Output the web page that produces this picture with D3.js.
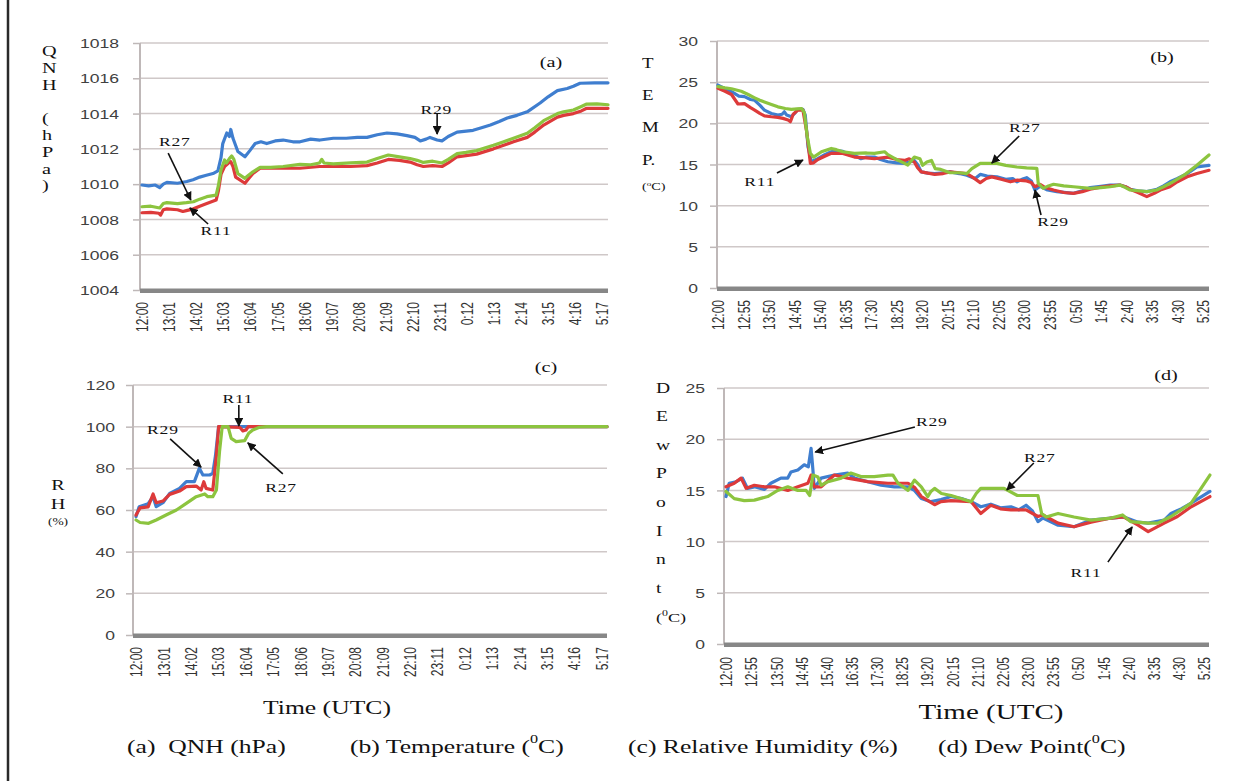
<!DOCTYPE html>
<html>
<head>
<meta charset="utf-8">
<script src="https://cdn.jsdelivr.net/npm/d3@7/dist/d3.min.js"></script>
<style>
  html, body { margin: 0; padding: 0; background: #fff; }
  svg { display: block; }
</style>
</head>
<body>
<svg id="fig" width="1256" height="781"></svg>
<script>
// ---- Tick labels (one label every 61 min for a/c, every 55 min for b/d) ----
const ticks61 = ["12:00","13:01","14:02","15:03","16:04","17:05","18:06","19:07","20:08","21:09","22:10","23:11","0:12","1:13","2:14","3:15","4:16","5:17"];
const ticks55 = ["12:00","12:55","13:50","14:45","15:40","16:35","17:30","18:25","19:20","20:15","21:10","22:05","23:00","23:55","0:50","1:45","2:40","3:35","4:30","5:25"];

// ---- Series: [minutes after 12:00 UTC, value] ----
// (a) QNH (hPa)
const qnhR29 = [[0,1009.95],[15,1009.9],[30,1009.95],[40,1009.8],[48,1010.0],[56,1010.1],[80,1010.05],[101,1010.15],[115,1010.25],[130,1010.4],[145,1010.5],[160,1010.6],[171,1010.75],[178,1011.5],[182,1012.3],[191,1012.9],[197,1012.7],[200,1013.1],[205,1012.6],[216,1011.85],[232,1011.55],[243,1011.9],[255,1012.3],[268,1012.4],[281,1012.3],[300,1012.45],[318,1012.5],[340,1012.4],[356,1012.4],[380,1012.55],[401,1012.5],[431,1012.6],[460,1012.6],[485,1012.65],[507,1012.65],[530,1012.8],[552,1012.9],[575,1012.85],[597,1012.75],[615,1012.65],[627,1012.45],[640,1012.55],[649,1012.65],[665,1012.5],[676,1012.45],[690,1012.7],[710,1012.95],[746,1013.05],[765,1013.2],[785,1013.35],[805,1013.55],[823,1013.75],[845,1013.9],[868,1014.1],[897,1014.6],[915,1014.95],[936,1015.3],[958,1015.42],[972,1015.55],[987,1015.72],[1020,1015.74],[1050,1015.74]];
const qnhR11 = [[0,1008.38],[20,1008.4],[38,1008.35],[42,1008.25],[48,1008.55],[56,1008.6],[80,1008.55],[92,1008.45],[100,1008.5],[116,1008.6],[130,1008.75],[146,1008.9],[167,1009.1],[172,1009.6],[178,1010.55],[186,1011.0],[195,1011.2],[200,1011.27],[205,1011.0],[211,1010.4],[232,1010.05],[240,1010.3],[250,1010.6],[266,1010.9],[300,1010.9],[318,1010.9],[356,1010.9],[400,1011.0],[431,1011.0],[470,1011.0],[507,1011.05],[530,1011.2],[555,1011.4],[580,1011.35],[604,1011.25],[620,1011.1],[634,1011.0],[655,1011.05],[676,1011.0],[690,1011.2],[710,1011.55],[754,1011.7],[792,1012.0],[815,1012.2],[837,1012.4],[868,1012.65],[885,1012.95],[905,1013.35],[936,1013.8],[950,1013.9],[972,1014.0],[990,1014.15],[1002,1014.3],[1050,1014.3]];
const qnhR27 = [[0,1008.72],[20,1008.75],[40,1008.65],[48,1008.9],[56,1008.95],[80,1008.9],[100,1008.95],[116,1009.0],[130,1009.15],[146,1009.29],[167,1009.38],[172,1009.9],[178,1010.8],[186,1011.37],[190,1011.2],[197,1011.45],[202,1011.6],[207,1011.4],[216,1010.6],[232,1010.33],[240,1010.5],[250,1010.7],[266,1010.95],[290,1010.95],[318,1011.0],[356,1011.12],[380,1011.1],[400,1011.2],[405,1011.4],[410,1011.2],[431,1011.15],[470,1011.2],[507,1011.25],[530,1011.45],[555,1011.65],[580,1011.55],[604,1011.45],[620,1011.35],[634,1011.23],[655,1011.3],[676,1011.2],[690,1011.4],[710,1011.73],[730,1011.8],[754,1011.9],[792,1012.2],[815,1012.4],[837,1012.6],[868,1012.88],[885,1013.2],[905,1013.6],[936,1014.0],[950,1014.1],[972,1014.2],[990,1014.4],[1002,1014.54],[1025,1014.55],[1050,1014.5]];

// (b) Temperature (°C)
const tempR29 = [[0,24.65],[15,24.2],[29,23.85],[45,23.3],[57,23.25],[70,22.9],[79,22.8],[90,22.2],[100,21.6],[115,21.2],[129,21.0],[138,21.1],[143,21.4],[148,21.0],[158,20.8],[165,21.2],[172,21.7],[183,21.7],[188,21.0],[194,17.15],[201,15.33],[215,15.7],[230,16.2],[244,16.55],[255,16.7],[269,16.6],[280,16.3],[294,16.1],[308,15.7],[320,15.9],[337,15.9],[350,15.6],[366,15.33],[385,15.2],[402,15.14],[412,15.3],[423,15.5],[430,15.0],[438,14.1],[452,13.95],[467,13.9],[485,14.0],[500,14.1],[520,13.9],[536,13.7],[554,13.3],[565,13.8],[580,13.6],[601,13.5],[620,13.2],[635,13.3],[644,12.9],[655,13.2],[665,13.4],[675,13.0],[683,11.9],[694,12.35],[710,11.9],[730,11.7],[766,11.5],[785,11.8],[802,12.2],[825,12.35],[845,12.5],[866,12.5],[878,12.3],[888,12.0],[905,11.8],[924,11.7],[946,12.0],[960,12.4],[974,12.9],[990,13.3],[1011,13.9],[1032,14.7],[1058,14.9]];
const tempR11 = [[0,24.25],[15,23.9],[29,23.5],[43,22.35],[57,22.4],[70,21.9],[79,21.6],[90,21.2],[100,20.9],[115,20.8],[129,20.73],[140,20.6],[151,20.4],[156,20.2],[162,21.1],[172,21.6],[183,21.6],[191,19.0],[199,15.14],[206,15.2],[215,15.6],[230,16.0],[244,16.35],[269,16.35],[294,15.9],[320,15.8],[337,15.7],[366,15.9],[385,15.6],[402,15.5],[412,15.7],[423,15.3],[430,14.6],[438,14.1],[467,13.8],[485,13.9],[500,14.1],[520,14.0],[536,13.9],[550,13.4],[565,12.8],[578,13.3],[590,13.5],[610,13.2],[630,12.9],[645,13.1],[665,13.0],[675,12.8],[683,12.3],[694,12.6],[705,12.2],[723,11.9],[745,11.6],[766,11.5],[785,11.7],[802,12.0],[825,12.25],[845,12.4],[866,12.5],[878,12.3],[888,12.0],[905,11.6],[924,11.1],[940,11.5],[953,11.9],[974,12.3],[990,12.9],[1011,13.5],[1032,13.9],[1058,14.3]];
const tempR27 = [[0,24.45],[15,24.3],[29,24.2],[50,23.9],[65,23.5],[79,23.1],[90,22.8],[100,22.6],[115,22.3],[129,22.0],[145,21.8],[158,21.7],[170,21.75],[180,21.8],[186,21.3],[192,18.5],[199,16.35],[206,15.9],[223,16.55],[244,16.95],[255,16.8],[269,16.55],[294,16.35],[320,16.4],[337,16.35],[359,16.55],[366,16.2],[385,15.6],[400,15.2],[409,14.93],[423,15.9],[435,15.7],[441,14.9],[450,15.3],[460,15.5],[468,14.5],[480,14.4],[500,14.0],[520,14.0],[536,13.9],[547,14.5],[565,15.14],[601,15.14],[620,14.9],[644,14.7],[665,14.6],[687,14.53],[690,12.7],[701,12.1],[712,12.4],[723,12.6],[745,12.4],[766,12.3],[802,12.1],[825,12.2],[845,12.3],[866,12.5],[878,12.2],[888,11.9],[924,11.7],[945,11.9],[960,12.3],[980,12.9],[1004,13.7],[1032,14.9],[1058,16.15]];

// (c) Relative humidity (%)
const rhR29 = [[0,56.8],[7,61.6],[27,63],[38,66.4],[45,61.6],[60,63.5],[75,68],[97,70.4],[112,73.6],[130,73.6],[141,80],[149,76.8],[164,76.8],[171,77.6],[177,86],[184,100],[1049,100]];
const rhR11 = [[0,57.6],[9,61],[27,61.5],[38,67.7],[45,63.5],[60,64.3],[75,67.5],[97,69.1],[112,71.2],[134,71.5],[145,69.6],[151,73.6],[156,70.4],[171,69.6],[179,86],[184,100],[231,99.7],[238,98.0],[245,98.4],[250,100],[1049,100]];
const rhR27 = [[0,55.2],[9,54],[28,53.6],[45,55.2],[67,57.6],[90,60],[112,63.2],[134,66.4],[153,67.7],[160,66.4],[171,66.4],[179,69.6],[186,88],[192,100],[205,100],[212,94.4],[223,92.8],[242,93.3],[251,96.8],[260,98.4],[275,99.7],[290,100],[1049,100]];

// (d) Dew point (°C)
const dewR29 = [[0,14.4],[7,15.7],[22,15.85],[36,16.2],[47,15.2],[62,15.35],[84,15.1],[98,15.7],[120,16.2],[135,16.2],[142,16.8],[157,17.0],[171,17.5],[180,17.3],[186,19.1],[190,17.0],[193,15.2],[208,16.2],[237,16.5],[266,16.7],[281,16.2],[310,15.85],[339,15.5],[368,15.35],[398,15.35],[412,15.0],[427,14.2],[448,13.9],[470,14.1],[492,14.4],[515,14.2],[536,13.9],[557,13.4],[579,13.65],[600,13.3],[623,13.4],[640,13.1],[656,13.55],[670,13.0],[682,11.95],[693,12.3],[726,11.6],[761,11.45],[798,12.1],[842,12.3],[870,12.4],[901,11.9],[923,11.8],[958,12.1],[973,12.75],[995,13.2],[1017,13.75],[1058,14.9]];
const dewR11 = [[0,15.35],[18,15.7],[33,16.2],[44,15.2],[62,15.5],[84,15.35],[106,15.35],[135,15.0],[157,15.35],[179,15.7],[186,16.5],[193,15.35],[208,15.35],[237,16.5],[266,16.2],[310,15.85],[354,15.7],[398,15.7],[412,15.3],[427,14.4],[456,13.6],[470,13.9],[492,14.0],[536,13.9],[557,12.75],[579,13.55],[600,13.2],[623,13.1],[656,13.1],[682,12.45],[693,12.6],[726,11.8],[761,11.45],[798,11.9],[842,12.3],[870,12.4],[901,11.6],[923,10.97],[958,11.8],[987,12.45],[1017,13.4],[1058,14.4]];
const dewR27 = [[0,14.9],[18,14.2],[40,14.0],[62,14.05],[91,14.4],[113,15.0],[135,15.35],[157,15.0],[175,15.0],[183,14.5],[190,16.5],[201,16.3],[208,15.5],[223,15.85],[252,16.2],[273,16.7],[295,16.35],[324,16.35],[354,16.5],[365,16.5],[376,15.7],[398,15.0],[412,16.0],[427,15.35],[441,14.4],[448,14.9],[456,15.2],[471,14.7],[492,14.5],[536,13.9],[547,14.7],[557,15.2],[608,15.2],[637,14.5],[682,14.5],[690,12.75],[700,12.4],[726,12.75],[761,12.4],[798,12.1],[842,12.3],[867,12.6],[885,11.95],[923,11.8],[944,11.8],[973,12.45],[1017,13.75],[1058,16.5]];

// ---- Y tick values ----
const yTicksA = [1004,1006,1008,1010,1012,1014,1016,1018];
const yTicksB = [0,5,10,15,20,25,30];
const yTicksC = [0,20,40,60,80,100,120];
const yTicksD = [0,5,10,15,20,25];

// ---- Station callouts, in data units: label centre, arrow tail, arrow head ----
const notesA = [
  {label:"R27", at:[74,1012.44], from:[59,1011.76], to:[110,1009.1]},
  {label:"R11", at:[167,1007.4], from:[149,1007.74], to:[108,1008.65]},
  {label:"R29", at:[663,1014.26], from:[665,1013.98], to:[665,1012.84]}
];
const notesB = [
  {label:"R11", at:[90,12.99], from:[127,13.96], to:[183,15.54]},
  {label:"R27", at:[661,19.55], from:[649,18.46], to:[590,15.18]},
  {label:"R29", at:[722,8.13], from:[696,8.86], to:[683,11.9]}
];
const notesC = [
  {label:"R11", at:[227,113.8], from:[229,110.4], to:[229,100.3]},
  {label:"R29", at:[60,98.9], from:[76,94.1], to:[145,80.6]},
  {label:"R27", at:[323,71.0], from:[327,77.3], to:[249,92.2]}
];
const notesD = [
  {label:"R29", at:[450,21.78], from:[413,21.19], to:[195,18.75]},
  {label:"R27", at:[686,18.26], from:[673,17.68], to:[614,15.04]},
  {label:"R11", at:[787,7.03], from:[835,8.0], to:[888,11.43]}
];

const COLORS = { R29: "#3f7ecf", R11: "#dd3a3a", R27: "#8cc43f" };
const SX = 1.35;               // horizontal glyph stretch used by the figure's type
const SANS = "'Liberation Sans', Arial, sans-serif";
const SERIF = "'Liberation Serif', 'Times New Roman', serif";

const svg = d3.select("#fig");
svg.append("rect").attr("width", 1256).attr("height", 781).attr("fill", "#fff");

// page rule on the left
svg.append("line").attr("x1", 8).attr("x2", 8).attr("y1", 0).attr("y2", 781)
  .attr("stroke", "#2a2a2a").attr("stroke-width", 2.5);

function stretchedText(g, x, y, str, size, anchor, family, fill) {
  return g.append("text")
    .attr("transform", `translate(${x},${y}) scale(${SX},1)`)
    .attr("text-anchor", anchor || "start")
    .attr("dominant-baseline", "central")
    .attr("font-family", family || SERIF)
    .attr("font-size", size)
    .attr("fill", fill || "#111")
    .attr("xml:space", "preserve")
    .style("white-space", "pre")
    .text(str);
}

svg.append("defs").append("marker")
  .attr("id", "arrowhead").attr("viewBox", "0 0 10 10")
  .attr("refX", 9).attr("refY", 5)
  .attr("markerWidth", 5.5).attr("markerHeight", 5.5)
  .attr("markerUnits", "strokeWidth")
  .attr("orient", "auto")
  .append("path").attr("d", "M0,0 L10,5 L0,10 Z").attr("fill", "#111");

function drawPanel(p) {
  const x = d3.scaleLinear().domain(p.xDomain).range([p.left, p.right]);
  const y = d3.scaleLinear().domain(p.yDomain).range([p.bottom, p.top]);
  const g = svg.append("g");

  // horizontal gridlines
  g.append("g").selectAll("line").data(p.yTicks.filter(v => v !== p.yDomain[0])).join("line")
    .attr("x1", p.left).attr("x2", p.right)
    .attr("y1", d => y(d)).attr("y2", d => y(d))
    .attr("stroke", "#cfc8c8").attr("stroke-width", 1.5);

  // vertical axis line
  g.append("line").attr("x1", p.left).attr("x2", p.left)
    .attr("y1", p.top).attr("y2", p.bottom)
    .attr("stroke", "#bfb8b8").attr("stroke-width", 2);

  // value axis
  const ya = g.append("g").attr("transform", `translate(${p.left},0)`)
    .call(d3.axisLeft(y).tickValues(p.yTicks).tickSize(7).tickFormat(d3.format("d")));
  ya.select(".domain").remove();
  ya.selectAll(".tick line").attr("stroke", "#bfb8b8").attr("stroke-width", 1.5);
  ya.selectAll(".tick text")
    .attr("x", null).attr("dy", null)
    .attr("text-anchor", "end").attr("dominant-baseline", "central")
    .attr("transform", `translate(${-p.yLabelGap},0) scale(${SX},1)`)
    .attr("font-family", SANS).attr("font-size", 13).attr("fill", "#404040");

  // time axis (rotated labels)
  const xa = g.append("g").attr("transform", `translate(0,${p.bottom})`)
    .call(d3.axisBottom(x).tickValues(p.tickLabels.map((_, i) => i * p.tickStep))
      .tickSize(0).tickFormat((d, i) => p.tickLabels[i]));
  xa.select(".domain").remove();
  xa.selectAll(".tick text")
    .attr("x", null).attr("y", null).attr("dy", null)
    .attr("text-anchor", "end").attr("dominant-baseline", "central")
    .attr("transform", `scale(${SX},1) rotate(-90) translate(${-p.xLabelGap},0)`)
    .attr("font-family", SANS).attr("font-size", 12).attr("fill", "#333");

  // heavy floor line of the plot
  g.append("rect").attr("x", p.left).attr("y", p.bottom - 1.5)
    .attr("width", p.right - p.left).attr("height", 4.5)
    .attr("fill", "#878787");

  // station series
  const line = d3.line().x(d => x(d[0])).y(d => y(d[1]));
  p.series.forEach(s => {
    g.append("path").datum(s.values).attr("d", line)
      .attr("fill", "none").attr("stroke", COLORS[s.name])
      .attr("stroke-width", 3.2).attr("stroke-linejoin", "round").attr("stroke-linecap", "round");
  });

  // callouts
  p.notes.forEach(n => {
    g.append("line")
      .attr("x1", x(n.from[0])).attr("y1", y(n.from[1]))
      .attr("x2", x(n.to[0])).attr("y2", y(n.to[1]))
      .attr("stroke", "#111").attr("stroke-width", 1.6)
      .attr("marker-end", "url(#arrowhead)");
    stretchedText(g, x(n.at[0]), y(n.at[1]), n.label, 13, "middle")
      .attr("letter-spacing", 0.6);
  });

  // panel letter
  stretchedText(g, p.tag[1], p.tag[2], p.tag[0], 15, "middle");

  // stacked axis title
  p.title.forEach(t => {
    const txt = stretchedText(g, p.titleX, t.y, null, t.size, p.titleAnchor);
    if (t.sup) {
      txt.append("tspan").text(t.pre);
      txt.append("tspan").attr("font-size", t.size * 0.65).attr("dy", -t.size * 0.35).text(t.sup);
      txt.append("tspan").attr("dy", t.size * 0.35).text(t.post);
    } else {
      txt.text(t.text);
    }
  });

  if (p.xTitle) {
    stretchedText(g, p.xTitle.x, p.xTitle.y, "Time (UTC)", p.xTitle.size, "middle");
  }
}

const letters = (arr, y0, step, size) => arr.map((t, i) => ({ text: t, y: y0 + i * step, size }));

drawPanel({
  left: 140, right: 608, top: 43, bottom: 290,
  xDomain: [-4.5, 1050], yDomain: [1004, 1018], yTicks: yTicksA,
  tickLabels: ticks61, tickStep: 61, yLabelGap: 21, xLabelGap: 12,
  series: [{name:"R29", values:qnhR29}, {name:"R11", values:qnhR11}, {name:"R27", values:qnhR27}],
  notes: notesA, tag: ["(a)", 551, 62],
  titleX: 42, titleAnchor: "start",
  title: letters(["Q","N","H","","(","h","P","a",")"], 51, 16.8, 15)
});

drawPanel({
  left: 717, right: 1209, top: 41, bottom: 288,
  xDomain: [-2.2, 1058], yDomain: [0, 30], yTicks: yTicksB,
  tickLabels: ticks55, tickStep: 55, yLabelGap: 19, xLabelGap: 12,
  series: [{name:"R29", values:tempR29}, {name:"R11", values:tempR11}, {name:"R27", values:tempR27}],
  notes: notesB, tag: ["(b)", 1162, 57],
  titleX: 642, titleAnchor: "start",
  title: letters(["T","E","M","P."], 63, 32.3, 14)
    .concat([{ y: 187, size: 10.5, pre: "(", sup: "o", post: "C)" }])
});

drawPanel({
  left: 133, right: 607, top: 385, bottom: 635,
  xDomain: [-6.7, 1049], yDomain: [0, 120], yTicks: yTicksC,
  tickLabels: ticks61, tickStep: 61, yLabelGap: 18, xLabelGap: 12,
  series: [{name:"R29", values:rhR29}, {name:"R11", values:rhR11}, {name:"R27", values:rhR27}],
  notes: notesC, tag: ["(c)", 546, 367],
  titleX: 58, titleAnchor: "middle",
  title: [{ text: "R", y: 485, size: 15 }, { text: "H", y: 504, size: 15 }, { text: "(%)", y: 522, size: 10 }],
  xTitle: { x: 327, y: 708, size: 19 }
});

drawPanel({
  left: 724, right: 1209, top: 388, bottom: 644,
  xDomain: [-4.4, 1056], yDomain: [0, 25], yTicks: yTicksD,
  tickLabels: ticks55, tickStep: 55, yLabelGap: 19, xLabelGap: 13,
  series: [{name:"R29", values:dewR29}, {name:"R11", values:dewR11}, {name:"R27", values:dewR27}],
  notes: notesD, tag: ["(d)", 1166, 375],
  titleX: 656, titleAnchor: "start",
  title: letters(["D","E","w","P","o","I","n","t"], 388, 28.6, 14.5)
    .concat([{ y: 617, size: 13.5, pre: "(", sup: "0", post: "C)" }]),
  xTitle: { x: 991, y: 712, size: 21.5 }
});

// figure caption
const caption = [
  { x: 127, pre: "(a)\u00a0 QNH (hPa)" },
  { x: 350, pre: "(b) Temperature (", sup: "0", post: "C)" },
  { x: 628, pre: "(c) Relative Humidity (%)" },
  { x: 938, pre: "(d) Dew Point(", sup: "0", post: "C)" }
];
const capG = svg.append("g");
caption.forEach(c => {
  const t = stretchedText(capG, c.x, 746, null, 19, "start");
  t.append("tspan").text(c.pre);
  if (c.sup) {
    t.append("tspan").attr("font-size", 12).attr("dy", -7).text(c.sup);
    t.append("tspan").attr("dy", 7).text(c.post);
  }
});
</script>
</body>
</html>
